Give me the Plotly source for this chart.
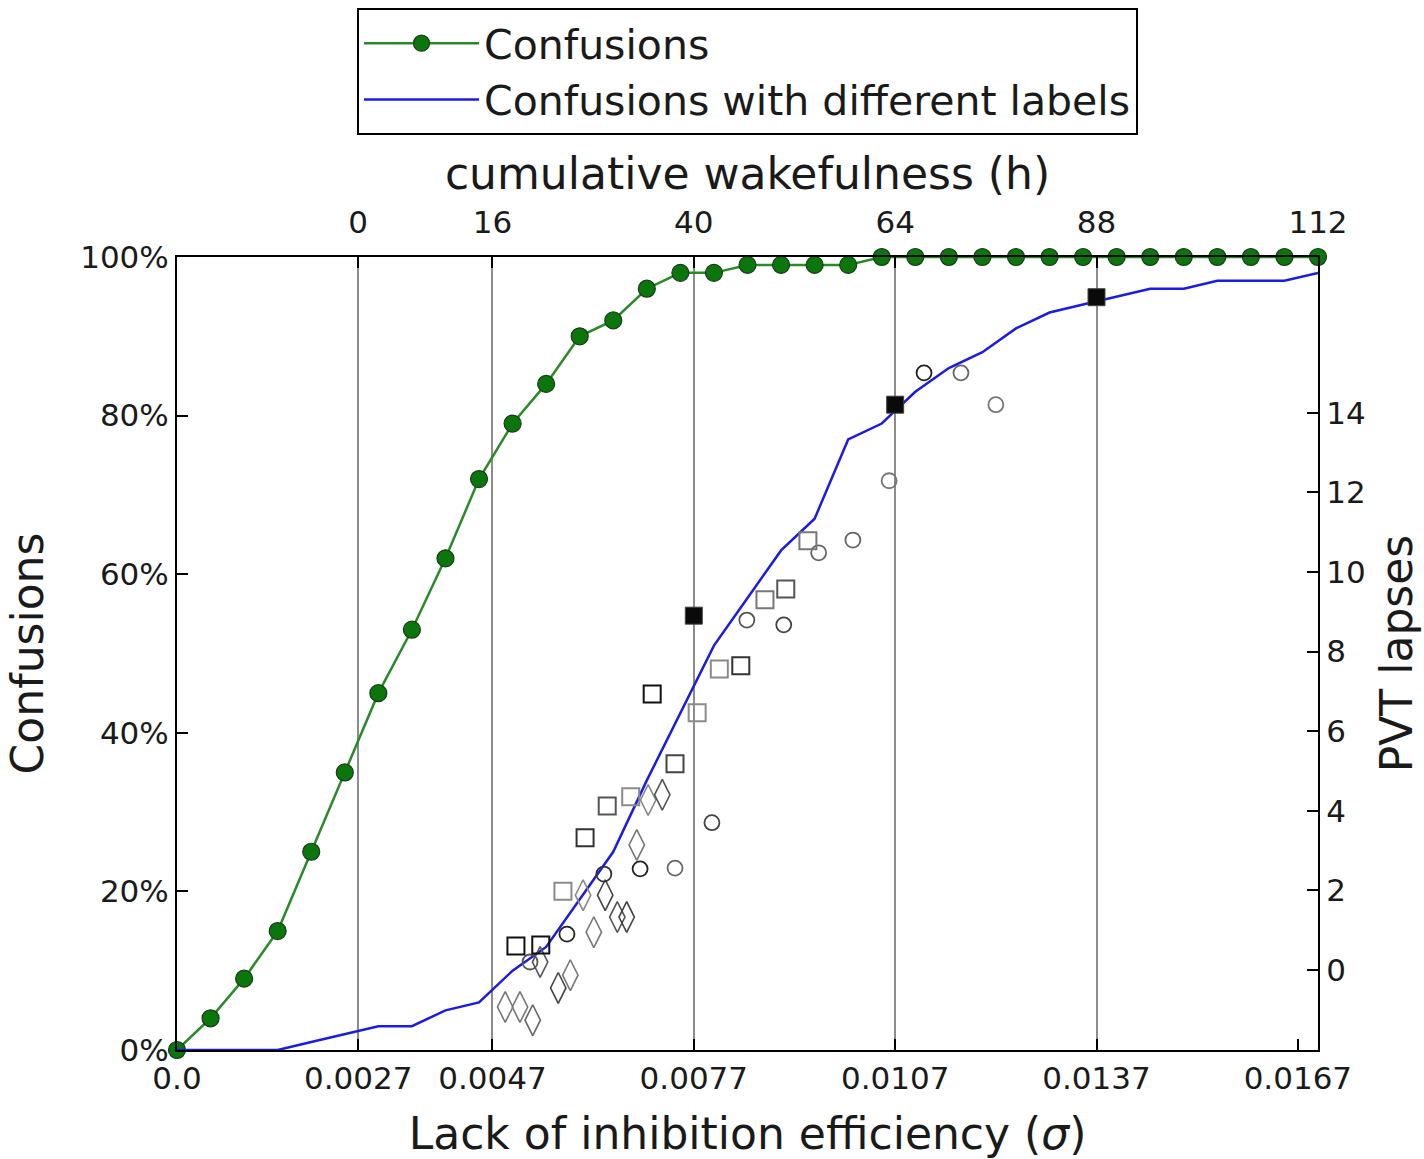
import plotly.graph_objects as go

# ---------------- data ----------------
sigma = [0.0, 0.0005, 0.001, 0.0015, 0.002, 0.0025, 0.003, 0.0035, 0.004, 0.0045,
         0.005, 0.0055, 0.006, 0.0065, 0.007, 0.0075, 0.008, 0.0085, 0.009, 0.0095,
         0.01, 0.0105, 0.011, 0.0115, 0.012, 0.0125, 0.013, 0.0135, 0.014, 0.0145,
         0.015, 0.0155, 0.016, 0.0165, 0.017]
confusions = [0, 4, 9, 15, 25, 35, 45, 53, 62, 72,
              79, 84, 90, 92, 96, 98, 98, 99, 99, 99,
              99, 100, 100, 100, 100, 100, 100, 100, 100, 100,
              100, 100, 100, 100, 100]
diff_labels = [0, 0, 0, 0, 1, 2, 3, 3, 5, 6,
               10, 13, 19, 25, 34, 42.5, 51, 57, 63, 67,
               77, 79, 83, 86, 88, 91, 93, 94, 95, 96,
               96, 97, 97, 97, 98]

# PVT lapses observations (right axis)
sq_filled_x = [0.0077, 0.0107, 0.0137]
sq_filled_y = [8.9, 14.2, 16.9]

sq_x = [0.00505, 0.00542, 0.00575, 0.00608, 0.00641, 0.00676, 0.00708,
        0.00742, 0.00775, 0.00808, 0.00840, 0.00876, 0.00907, 0.00940]
sq_y = [0.6, 0.63, 1.98, 3.32, 4.12, 4.35, 6.93,
        5.18, 6.46, 7.56, 7.64, 9.30, 9.57, 10.78]
sq_c = ['#111111', '#111111', '#8a8a8a', '#333333', '#555555', '#8a8a8a', '#111111',
        '#444444', '#8a8a8a', '#8a8a8a', '#333333', '#777777', '#555555', '#777777']

ci_x = [0.00526, 0.00581, 0.00636, 0.00690, 0.00742, 0.00797, 0.00849,
        0.00904, 0.00956, 0.01007, 0.01061, 0.01113, 0.01168, 0.01220]
ci_y = [0.20, 0.90, 2.41, 2.54, 2.56, 3.70, 8.79,
        8.67, 10.48, 10.80, 12.29, 15.0, 15.0, 14.2]
ci_c = ['#555555', '#222222', '#333333', '#222222', '#666666', '#444444', '#555555',
        '#444444', '#666666', '#666666', '#777777', '#222222', '#666666', '#777777']

di_x = [0.00489, 0.00511, 0.00530, 0.00541, 0.00568, 0.00586, 0.00605,
        0.00621, 0.00638, 0.00656, 0.00670, 0.00685, 0.00702, 0.00723]
di_y = [-0.93, -0.93, -1.26, 0.20, -0.45, -0.13, 1.88,
        0.95, 1.88, 1.33, 1.33, 3.14, 4.27, 4.40]
di_c = ['#777777', '#777777', '#666666', '#555555', '#444444', '#777777', '#888888',
        '#777777', '#444444', '#555555', '#444444', '#777777', '#888888', '#555555']

bottom_tickvals = [0.0, 0.0027, 0.0047, 0.0077, 0.0107, 0.0137, 0.0167]
bottom_ticktext = ['0.0', '0.0027', '0.0047', '0.0077', '0.0107', '0.0137', '0.0167']
top_tickvals = [0.0027, 0.0047, 0.0077, 0.0107, 0.0137, 0.017]
top_ticktext = ['0', '16', '40', '64', '88', '112']
left_tickvals = [0, 20, 40, 60, 80, 100]
left_ticktext = ['0%', '20%', '40%', '60%', '80%', '100%']
right_tickvals = [0, 2, 4, 6, 8, 10, 12, 14]

# ---------------- figure ----------------
FONT = 'DejaVu Sans'
TXT = '#1a1a1a'
fig = go.Figure()

fig.add_trace(go.Scatter(
    x=sigma, y=confusions, name='Confusions', mode='lines+markers',
    line=dict(color='#2a8a2a', width=2.5),
    marker=dict(color='#0b760b', size=17, line=dict(color='#1a3a1a', width=1.2)),
    xaxis='x', yaxis='y', cliponaxis=False))

fig.add_trace(go.Scatter(
    x=sigma, y=diff_labels, name='Confusions with different labels', mode='lines',
    line=dict(color='#1c1ce0', width=2.5),
    xaxis='x', yaxis='y'))

# invisible trace to activate the top axis
fig.add_trace(go.Scatter(
    x=top_tickvals, y=[None] * len(top_tickvals), mode='markers',
    showlegend=False, hoverinfo='skip', xaxis='x2', yaxis='y'))

fig.add_trace(go.Scatter(
    x=di_x, y=di_y, mode='markers', showlegend=False,
    marker=dict(symbol='diamond-tall-open', size=22, color=di_c, line=dict(width=1.6)),
    xaxis='x', yaxis='y2'))
fig.add_trace(go.Scatter(
    x=ci_x, y=ci_y, mode='markers', showlegend=False,
    marker=dict(symbol='circle-open', size=15, color=ci_c, line=dict(width=1.8)),
    xaxis='x', yaxis='y2'))
fig.add_trace(go.Scatter(
    x=sq_x, y=sq_y, mode='markers', showlegend=False,
    marker=dict(symbol='square-open', size=17, color=sq_c, line=dict(width=2)),
    xaxis='x', yaxis='y2'))
fig.add_trace(go.Scatter(
    x=sq_filled_x, y=sq_filled_y, mode='markers', showlegend=False,
    marker=dict(symbol='square', size=17, color='#0a0a0a', line=dict(color='#444444', width=1)),
    xaxis='x', yaxis='y2'))

axis_common = dict(
    showline=True, linecolor='black', linewidth=2,
    ticks='inside', ticklen=11, tickwidth=1.5, tickcolor='black',
    zeroline=False, tickfont=dict(size=31, color=TXT, family=FONT))

fig.update_layout(
    width=1424, height=1159,
    margin=dict(l=177, r=106, t=257, b=109, autoexpand=False),
    plot_bgcolor='white', paper_bgcolor='white',
    font=dict(family=FONT, color=TXT, size=31),
    showlegend=True,
    legend=dict(x=0.5, xanchor='center', y=1.314, yanchor='top',
                bordercolor='black', borderwidth=2, bgcolor='white',
                font=dict(size=41, color=TXT, family=FONT), itemwidth=115,
                tracegroupgap=6),
    xaxis=dict(range=[0, 0.017], tickvals=bottom_tickvals, ticktext=bottom_ticktext,
               mirror=True, showgrid=False,
               title=dict(text='Lack of inhibition efficiency (<i>σ</i>)',
                          font=dict(size=44, color=TXT, family=FONT), standoff=25),
               **axis_common),
    xaxis2=dict(range=[0, 0.017], overlaying='x', side='top',
                tickvals=top_tickvals, ticktext=top_ticktext,
                showgrid=True, gridcolor='#8c8c8c', gridwidth=2,
                ticklabelstandoff=10,
                title=dict(text='cumulative wakefulness (h)',
                           font=dict(size=44, color=TXT, family=FONT), standoff=0),
                **axis_common),
    yaxis=dict(range=[0, 100], tickvals=left_tickvals, ticktext=left_ticktext,
               mirror=True, showgrid=False,
               title=dict(text='Confusions', font=dict(size=44, color=TXT, family=FONT),
                          standoff=23),
               **axis_common),
    yaxis2=dict(range=[-2.01, 17.91], overlaying='y', side='right',
                tickvals=right_tickvals, showgrid=False,
                title=dict(text='PVT lapses', font=dict(size=44, color=TXT, family=FONT),
                           standoff=17),
                **axis_common),
)

fig.write_html('out.html')
